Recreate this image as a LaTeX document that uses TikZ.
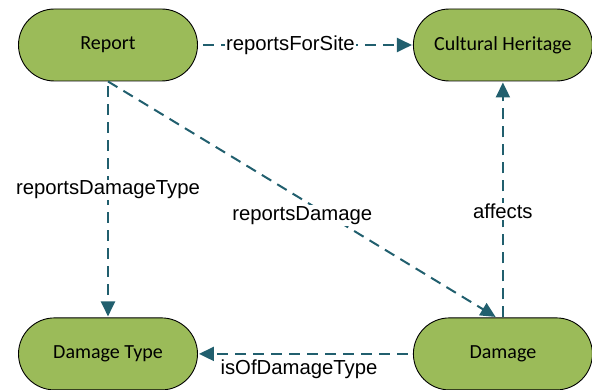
\documentclass[tikz,border=0pt]{standalone}
\usepackage{fontspec}
\setmainfont{Liberation Sans}
\newfontfamily\nodefont{Carlito}
\usepackage{xcolor}
\usepackage{tikz}
\usetikzlibrary{arrows.meta,positioning}
\definecolor{leaf}{HTML}{9BBB59}
\definecolor{teal}{HTML}{215F6E}

\begin{document}
\begin{tikzpicture}[
  x=1pt, y=-1pt,
  concept/.style={draw=black, line width=0.9pt, rounded corners=36pt, fill=leaf, minimum width=179pt, minimum height=72pt, font=\nodefont\fontsize{20}{23}\selectfont},
  relation/.style={-{Triangle[length=15pt,width=14pt]}, draw=teal, line width=2pt, dash pattern=on 11pt off 7pt, shorten <=5pt, shorten >=1pt},
  tag/.style={fill=white, inner sep=1pt, font=\fontsize{20.3}{23}\selectfont, text=black}
]
\useasboundingbox (0,0) rectangle (592,390);
\node[concept] (report) at (108,45) {Report};
\node[concept, right=215pt of report] (heritage) {Cultural Heritage};
\node[concept, below=236pt of report] (dtype) {Damage Type};
\node[concept, below=236pt of heritage] (damage) {Damage};
\draw[relation] (report) -- node[tag, pos=0.43] {reportsForSite} (heritage);
\draw[relation] (report) -- node[tag, pos=0.46] {reportsDamageType} (dtype);
\draw[relation, shorten <=0pt] (report.south) -- node[tag, pos=0.5, yshift=-16pt] {reportsDamage} (damage.100);
\draw[relation, shorten <=0pt] (damage) -- node[tag, pos=0.45] {affects} (heritage);
\draw[relation] (damage) -- node[tag, fill=none, below=4pt, pos=0.53] {isOfDamageType} (dtype);
\end{tikzpicture}
\end{document}
